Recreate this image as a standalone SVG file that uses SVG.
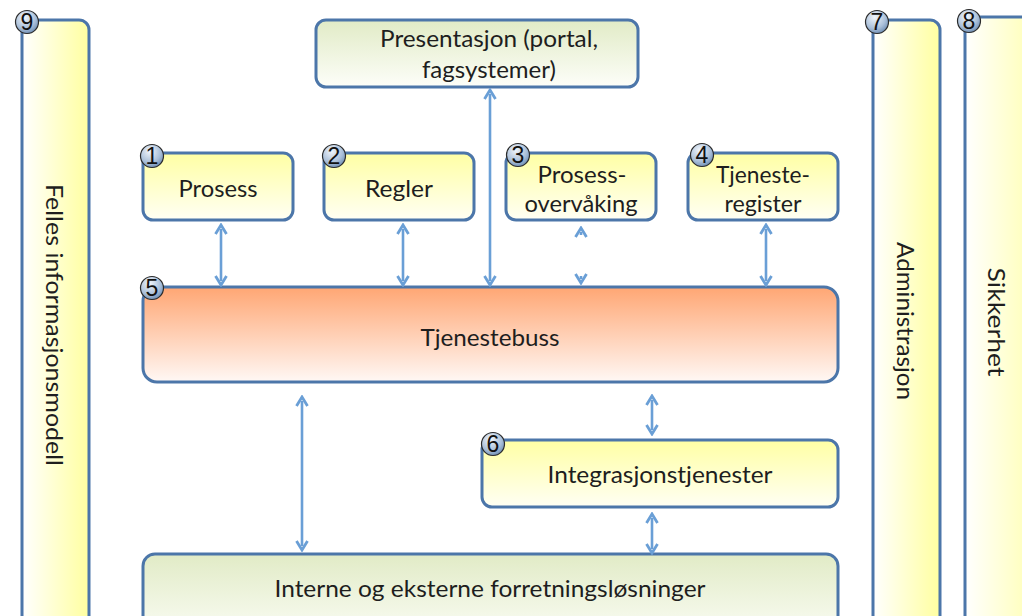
<svg xmlns="http://www.w3.org/2000/svg" width="1022" height="616" viewBox="0 0 1022 616">
<defs>
<linearGradient id="gY" x1="0" y1="0" x2="0" y2="1"><stop offset="0" stop-color="#ffffa4"/><stop offset="1" stop-color="#fffff4"/></linearGradient>
<linearGradient id="gSide" x1="0" y1="0" x2="1" y2="0"><stop offset="0" stop-color="#ffffff"/><stop offset="1" stop-color="#ffffa0"/></linearGradient>
<linearGradient id="gBus" x1="0" y1="0" x2="0" y2="1"><stop offset="0" stop-color="#ffa673"/><stop offset="1" stop-color="#fff8f5"/></linearGradient>
<linearGradient id="gG" x1="0" y1="0" x2="0" y2="1"><stop offset="0" stop-color="#e1ebc6"/><stop offset="1" stop-color="#fdfef9"/></linearGradient>
<radialGradient id="gBadge" cx="0.4" cy="0.3" r="0.8"><stop offset="0" stop-color="#f2f6fb"/><stop offset="0.6" stop-color="#a9bfd9"/><stop offset="1" stop-color="#5d7fa8"/></radialGradient>
<marker id="ah" viewBox="0 0 12 14" refX="6" refY="7" markerWidth="12" markerHeight="14" markerUnits="userSpaceOnUse" orient="auto-start-reverse">
<path d="M1,1.5 L10,7 L1,12.5" fill="none" stroke="#6a9fd6" stroke-width="2.8" stroke-linejoin="miter"/>
</marker>
<style>
.box{stroke:#4c76a9;stroke-width:3}
.t{font-family:Lato,"Liberation Sans",sans-serif;font-size:23px;fill:#1e1e1e;text-anchor:middle}
.badge circle{fill:url(#gBadge);stroke:#2b2b2b;stroke-width:1.2}
.badge text{font-family:"Liberation Sans",Arial,sans-serif;font-size:23px;fill:#111;text-anchor:middle}
.conn{stroke:#6a9fd6;stroke-width:2.6;fill:none;marker-start:url(#ah);marker-end:url(#ah)}
</style>
</defs>
<rect width="1022" height="616" fill="#ffffff"/>

<g id="n9">
<rect class="box" x="22" y="20" width="67" height="620" rx="10" fill="url(#gSide)"/>
<text class="t" transform="translate(46,325) rotate(90)" textLength="282" lengthAdjust="spacingAndGlyphs">Felles informasjonsmodell</text>
<g class="badge"><circle cx="27" cy="22" r="11.5"/><text x="27" y="30">9</text></g>
</g>

<g id="n7">
<rect class="box" x="873" y="20" width="67" height="620" rx="10" fill="url(#gSide)"/>
<text class="t" transform="translate(897,321) rotate(90)" textLength="158" lengthAdjust="spacingAndGlyphs">Administrasjon</text>
<g class="badge"><circle cx="877" cy="22" r="11.5"/><text x="877" y="30">7</text></g>
</g>

<g id="n8">
<rect class="box" x="965" y="17" width="90" height="620" rx="10" fill="url(#gSide)"/>
<text class="t" transform="translate(988,322) rotate(90)" textLength="109" lengthAdjust="spacingAndGlyphs">Sikkerhet</text>
<g class="badge"><circle cx="969" cy="21" r="11.5"/><text x="969" y="29">8</text></g>
</g>

<g id="presentasjon">
<rect class="box" x="316" y="20" width="322" height="67" rx="10" fill="url(#gG)"/>
<text class="t" x="489" y="47" textLength="218" lengthAdjust="spacingAndGlyphs">Presentasjon (portal,</text>
<text class="t" x="489" y="78" textLength="134" lengthAdjust="spacingAndGlyphs">fagsystemer)</text>
</g>

<g id="n1">
<rect class="box" x="143" y="153" width="150" height="67" rx="10" fill="url(#gY)"/>
<text class="t" x="218" y="197" textLength="79" lengthAdjust="spacingAndGlyphs">Prosess</text>
<g class="badge"><circle cx="152" cy="156" r="11.5"/><text x="152" y="164">1</text></g>
</g>

<g id="n2">
<rect class="box" x="324" y="153" width="150" height="67" rx="10" fill="url(#gY)"/>
<text class="t" x="399" y="197" textLength="68" lengthAdjust="spacingAndGlyphs">Regler</text>
<g class="badge"><circle cx="334" cy="156" r="11.5"/><text x="334" y="164">2</text></g>
</g>

<g id="n3">
<rect class="box" x="506" y="153" width="150" height="67" rx="10" fill="url(#gY)"/>
<text class="t" x="582" y="183" textLength="89" lengthAdjust="spacingAndGlyphs">Prosess-</text>
<text class="t" x="581" y="212" textLength="113" lengthAdjust="spacingAndGlyphs">overvåking</text>
<g class="badge"><circle cx="518" cy="155" r="11.5"/><text x="518" y="163">3</text></g>
</g>

<g id="n4">
<rect class="box" x="688" y="153" width="150" height="67" rx="10" fill="url(#gY)"/>
<text class="t" x="763" y="183" textLength="94" lengthAdjust="spacingAndGlyphs">Tjeneste-</text>
<text class="t" x="763" y="212" textLength="77" lengthAdjust="spacingAndGlyphs">register</text>
<g class="badge"><circle cx="702" cy="155" r="11.5"/><text x="702" y="163">4</text></g>
</g>

<g id="n5">
<rect class="box" x="143" y="287" width="695" height="95" rx="14" fill="url(#gBus)"/>
<text class="t" x="490" y="346" textLength="139" lengthAdjust="spacingAndGlyphs">Tjenestebuss</text>
<g class="badge"><circle cx="152" cy="288" r="11.5"/><text x="152" y="296">5</text></g>
</g>

<g id="n6">
<rect class="box" x="482" y="440" width="356" height="67" rx="10" fill="url(#gY)"/>
<text class="t" x="660" y="483" textLength="225" lengthAdjust="spacingAndGlyphs">Integrasjonstjenester</text>
<g class="badge"><circle cx="493" cy="444" r="11.5"/><text x="493" y="452">6</text></g>
</g>

<g id="forretning">
<rect class="box" x="143" y="554" width="695" height="90" rx="12" fill="url(#gG)"/>
<text class="t" x="490" y="597" textLength="431" lengthAdjust="spacingAndGlyphs">Interne og eksterne forretningsløsninger</text>
</g>

<g id="connectors">
<line class="conn" x1="221" y1="229" x2="221" y2="281"/>
<line class="conn" x1="403" y1="229" x2="403" y2="281"/>
<line class="conn" x1="490" y1="94" x2="490" y2="281"/>
<line class="conn" x1="581" y1="232" x2="581" y2="279" stroke-dasharray="3 41 3"/>
<line class="conn" x1="766" y1="229" x2="766" y2="281"/>
<line class="conn" x1="302" y1="401" x2="302" y2="546"/>
<line class="conn" x1="652" y1="400" x2="652" y2="430"/>
<line class="conn" x1="652" y1="518" x2="652" y2="549"/>
</g>
</svg>
